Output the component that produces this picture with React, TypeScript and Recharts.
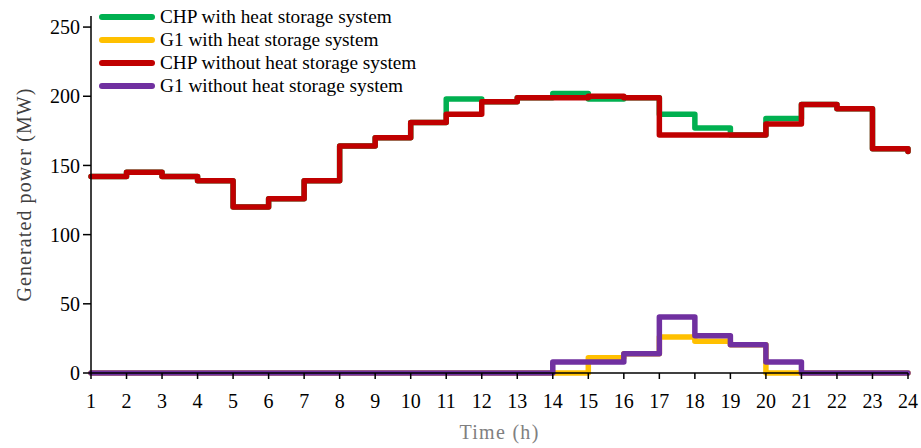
import React from "react";
import { LineChart, Line, XAxis, YAxis, Legend, Label } from "recharts";

const hours = [1, 2, 3, 4, 5, 6, 7, 8, 9, 10, 11, 12, 13, 14, 15, 16, 17, 18, 19, 20, 21, 22, 23, 24];
const chpWith = [142, 145, 142, 139, 120, 126, 139, 164, 170, 181, 198, 196, 199, 202, 198, 199, 187, 177, 172, 184, 194, 191, 162, 160];
const g1With = [0, 0, 0, 0, 0, 0, 0, 0, 0, 0, 0, 0, 0, 0, 11, 14, 26, 23, 20.5, 0, 0, 0, 0, 0];
const chpWithout = [142, 145, 142, 139, 120, 126, 139, 164, 170, 181, 187, 196, 199, 199, 200, 199, 172, 172, 172, 180, 194, 191, 162, 160];
const g1Without = [0, 0, 0, 0, 0, 0, 0, 0, 0, 0, 0, 0, 0, 8, 8, 14, 40.5, 27, 20.5, 8, 0, 0, 0, 0];
const yTicks = [0, 50, 100, 150, 200, 250];

const seriesInfo = [
  { key: "chpWith", name: "CHP with heat storage system", color: "#00B050" },
  { key: "g1With", name: "G1 with heat storage system", color: "#FFC000" },
  { key: "chpWithout", name: "CHP without heat storage system", color: "#C00000" },
  { key: "g1Without", name: "G1 without heat storage system", color: "#7030A0" },
];

const data = hours.map((t, i) => ({
  t,
  chpWith: chpWith[i],
  g1With: g1With[i],
  chpWithout: chpWithout[i],
  g1Without: g1Without[i],
}));

const FONT = '"Liberation Serif", "Times New Roman", serif';

const renderLegend = () => (
  <div style={{ fontFamily: FONT, fontSize: 19.3, color: "#000" }}>
    {seriesInfo.map((s) => (
      <div key={s.key} style={{ display: "flex", alignItems: "center", height: 23, whiteSpace: "nowrap" }}>
        <div style={{ width: 56, height: 6, borderRadius: 3, background: s.color, marginRight: 5 }} />
        <span>{s.name}</span>
      </div>
    ))}
  </div>
);

export default function App() {
  return (
    <div style={{ position: "absolute", left: 0, top: 0 }}>
      <LineChart width={921} height={448} data={data} margin={{ top: 16, right: 13, bottom: 0, left: 0 }}>
        <XAxis
          dataKey="t"
          type="number"
          domain={[1, 24]}
          ticks={hours}
          interval={0}
          height={75}
          tickSize={6}
          tickMargin={15}
          stroke="#000"
          strokeWidth={1.5}
          tick={{ fill: "#000", fontSize: 20, fontFamily: FONT }}
        >
          <Label
            value="Time (h)"
            position="insideBottom"
            offset={9}
            style={{ fill: "#808080", fontSize: 20, fontFamily: FONT, letterSpacing: 1.3 }}
          />
        </XAxis>
        <YAxis
          type="number"
          domain={[0, 258]}
          ticks={yTicks}
          width={91}
          tickSize={8}
          tickMargin={3}
          stroke="#000"
          strokeWidth={1.5}
          tick={{ fill: "#000", fontSize: 20, fontFamily: FONT }}
        >
          <Label
            value="Generated power (MW)"
            angle={-90}
            position="insideLeft"
            offset={24}
            style={{ fill: "#404040", fontSize: 20, fontFamily: FONT, textAnchor: "middle", letterSpacing: 1.1 }}
          />
        </YAxis>
        <Legend
          layout="horizontal"
          verticalAlign="middle"
          align="center"
          content={renderLegend}
          wrapperStyle={{ left: 99, top: 5, width: "auto", height: "auto" }}
        />
        {seriesInfo.map((s) => (
          <Line
            key={s.key}
            type="stepAfter"
            dataKey={s.key}
            name={s.name}
            stroke={s.color}
            strokeWidth={5.5}
            strokeLinecap="round"
            strokeLinejoin="round"
            dot={false}
            activeDot={false}
            isAnimationActive={false}
          />
        ))}
      </LineChart>
    </div>
  );
}
